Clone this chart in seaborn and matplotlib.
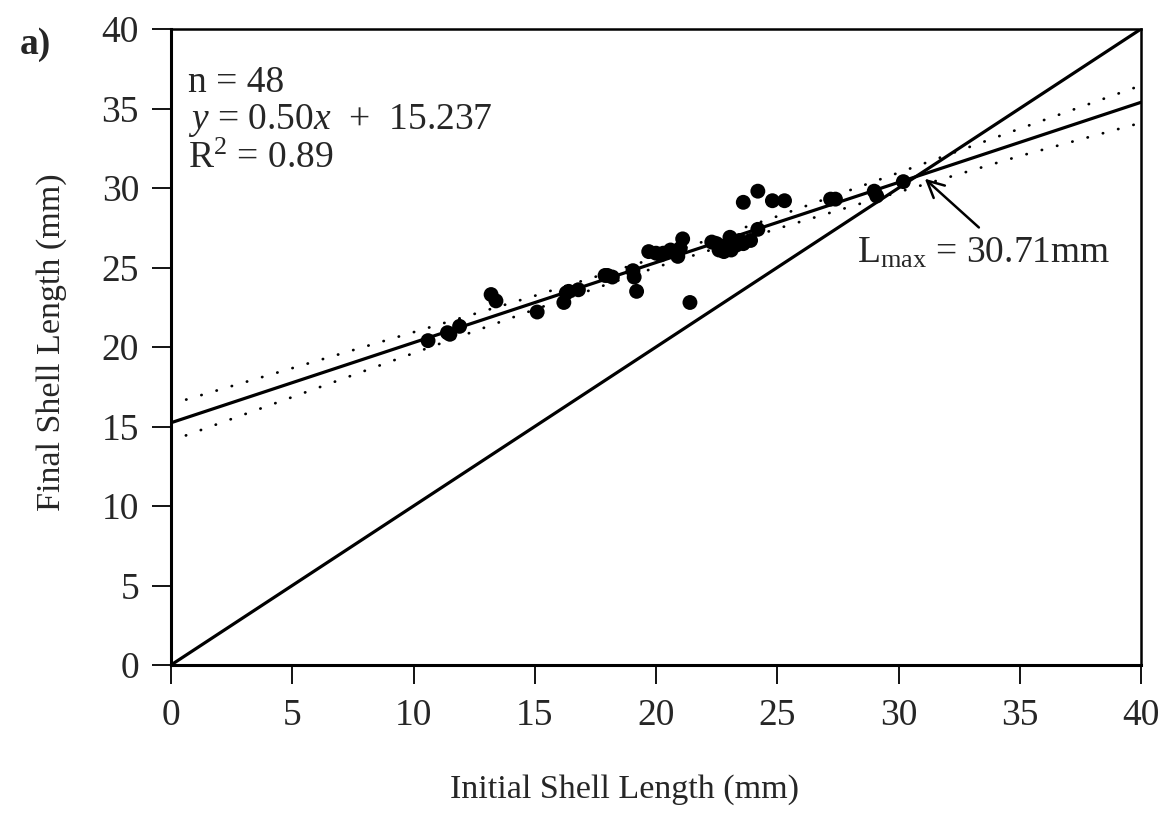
import numpy as np
import pandas as pd
import matplotlib
matplotlib.use("Agg")
import matplotlib.pyplot as plt
import seaborn as sns

# ---- data ----
initial_length = [10.6, 11.4, 11.5, 11.9, 13.2, 13.4, 15.1, 16.2, 16.3, 16.4,
                  16.8, 17.9, 18.0, 18.2, 19.05, 19.1, 19.2, 19.7, 20.0, 20.2,
                  20.3, 20.6, 20.8, 20.9, 21.0, 21.1, 21.4, 22.3, 22.5, 22.6,
                  22.8, 23.0, 23.05, 23.1, 23.3, 23.45, 23.6, 23.9, 23.6, 24.2,
                  24.2, 24.8, 25.3, 27.2, 27.4, 29.0, 29.1, 30.2]
final_length = [20.4, 20.9, 20.8, 21.3, 23.3, 22.9, 22.2, 22.8, 23.4, 23.5,
                23.6, 24.5, 24.5, 24.4, 24.8, 24.4, 23.5, 26.0, 25.9, 25.8,
                25.9, 26.1, 26.0, 25.7, 26.2, 26.8, 22.8, 26.6, 26.5, 26.1,
                26.0, 26.5, 26.9, 26.1, 26.4, 26.7, 26.5, 26.7, 29.1, 29.8,
                27.4, 29.2, 29.2, 29.3, 29.3, 29.8, 29.5, 30.4]

slope = 0.5038
intercept = 15.237
line_x = [0, 40]

band_x = [0, 5, 10, 15, 20, 25, 30, 35, 40]
band_upper = [16.41, 18.67, 20.93, 23.22, 25.61, 28.22, 30.96, 33.73, 36.45]
band_lower = [14.10, 16.85, 19.61, 22.36, 25.01, 27.44, 29.74, 32.01, 34.10]

x_ticks = [0, 5, 10, 15, 20, 25, 30, 35, 40]
y_ticks = [0, 5, 10, 15, 20, 25, 30, 35, 40]

df = pd.DataFrame({"initial": initial_length, "final": final_length})

sns.set_theme(style="white")
plt.rcParams["font.family"] = ["Liberation Serif", "DejaVu Serif"]
plt.rcParams["mathtext.fontset"] = "custom"
plt.rcParams["mathtext.rm"] = "Liberation Serif"
plt.rcParams["mathtext.it"] = "Liberation Serif:italic"

TICK_FS = 27
LABEL_FS = 24.5
TEXT_FS = 27

fig = plt.figure(figsize=(11.65, 8.17), dpi=100)
ax = fig.add_axes([171 / 1165, 1 - 665 / 817, (1141 - 171) / 1165, (665 - 29) / 817])

# identity line
ax.plot(line_x, line_x, color="black", lw=2.3, solid_capstyle="butt", zorder=2)
# regression line
fit_y = [slope * v + intercept for v in line_x]
ax.plot(line_x, fit_y, color="black", lw=2.3, zorder=2)
# confidence band (dotted)
for band in (band_upper, band_lower):
    ax.plot(band_x, band, color="black", lw=2.0, linestyle=(0, (0.1, 5.6)),
            dash_capstyle="round", zorder=2)

sns.scatterplot(data=df, x="initial", y="final", ax=ax, color="black",
                s=115, edgecolor="none", linewidth=0, zorder=3, legend=False)

ax.set_xlim(0, 40)
ax.set_ylim(0, 40)
ax.set_xticks(x_ticks)
ax.set_yticks(y_ticks)
ax.set_xticklabels([str(t) for t in x_ticks], fontsize=TICK_FS)
ax.set_yticklabels([str(t) for t in y_ticks], fontsize=TICK_FS)
ax.tick_params(axis="both", which="both", direction="out", length=14, width=1.3,
               color="black", bottom=True, left=True, top=False, right=False)
ax.tick_params(axis="x", pad=10)
ax.tick_params(axis="y", pad=9)

for side in ("left", "bottom"):
    ax.spines[side].set_linewidth(2.2)
for side in ("top", "right"):
    ax.spines[side].set_linewidth(1.8)
for s in ax.spines.values():
    s.set_color("black")
    s.set_visible(True)

ax.set_xlabel("Initial Shell Length (mm)", fontsize=LABEL_FS)
ax.set_ylabel("Final Shell Length (mm)", fontsize=LABEL_FS)
ax.xaxis.set_label_coords((625 - 171) / 970, -(774 - 665) / 636)
ax.yaxis.set_label_coords(-(171 - 67) / 970, (665 - 342) / 636)

ax.text(0.7, 37.7, "n = 48\n$y$ = 0.50$x$  +  15.237\nR$^2$ = 0.89",
        fontsize=TEXT_FS, va="top", ha="left", linespacing=1.08)

ax.annotate("", xy=(31.0, 30.7), xytext=(33.4, 27.4),
            arrowprops=dict(arrowstyle="->", color="black", lw=1.8,
                            mutation_scale=30))
ax.text(28.3, 25.9, "L$_{\\rm max}$ = 30.71mm", fontsize=TEXT_FS, va="center", ha="left")

fig.text(20 / 1165, 1 - 45 / 817, "a)", fontsize=27, fontweight="bold",
         va="center", ha="left")

fig.savefig("out.png", dpi=100)
